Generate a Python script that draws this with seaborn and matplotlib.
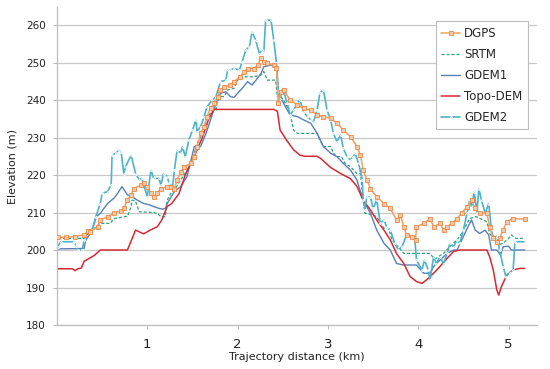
import matplotlib
matplotlib.use("Agg")
import matplotlib.pyplot as plt
import seaborn as sns

# ── Data ─────────────────────────────────────────────────────────────────────
DGPS_KM = [0.01, 0.10, 0.20, 0.30, 0.34, 0.37, 0.45, 0.48, 0.56, 0.63, 0.71, 0.74,
           0.78, 0.82, 0.85, 0.93, 0.96, 1.00, 1.04, 1.07, 1.11, 1.15, 1.22, 1.26,
           1.30, 1.33, 1.37, 1.41, 1.48, 1.52, 1.55, 1.59, 1.63, 1.66, 1.70, 1.74,
           1.78, 1.81, 1.85, 1.92, 1.96, 2.03, 2.07, 2.11, 2.18, 2.22, 2.26, 2.29,
           2.33, 2.40, 2.43, 2.45, 2.48, 2.51, 2.58, 2.66, 2.73, 2.81, 2.88, 2.95,
           3.03, 3.10, 3.17, 3.25, 3.32, 3.36, 3.39, 3.43, 3.47, 3.54, 3.62, 3.69,
           3.76, 3.80, 3.84, 3.87, 3.93, 3.97, 3.98, 4.06, 4.13, 4.17, 4.24, 4.28,
           4.32, 4.37, 4.43, 4.48, 4.54, 4.59, 4.63, 4.68, 4.76, 4.79, 4.83, 4.87,
           4.90, 4.94, 4.98, 5.05, 5.18]
DGPS_ELEV = [203.4, 203.4, 203.6, 204.0, 205.0, 204.9, 206.2, 208.0, 208.9, 209.8, 210.5, 211.1,
             213.3, 214.7, 216.4, 217.3, 217.8, 216.9, 215.1, 214.2, 215.1, 216.4, 216.9, 216.9,
             216.4, 218.7, 220.9, 222.2, 223.1, 224.9, 227.6, 231.1, 232.9, 235.6, 237.8, 239.1,
             240.9, 242.7, 243.6, 244.0, 244.9, 246.2, 247.6, 248.4, 248.4, 249.3, 251.1, 250.2,
             249.8, 249.3, 248.6, 239.1, 242.2, 242.7, 240.0, 238.7, 237.8, 237.3, 236.0, 235.6,
             235.1, 233.8, 232.0, 230.2, 227.6, 225.3, 221.3, 218.7, 216.4, 214.2, 212.4, 211.1,
             208.0, 209.3, 206.2, 204.0, 203.6, 202.8, 206.2, 207.1, 208.4, 206.2, 207.1, 205.3,
             206.2, 207.1, 208.4, 209.8, 211.6, 213.3, 211.1, 209.8, 209.8, 206.2, 203.1, 202.2,
             203.1, 205.3, 207.6, 208.4, 208.2]

SRTM_KM = [0.01, 0.30, 0.32, 0.37, 0.43, 0.48, 0.59, 0.63, 0.78, 0.82, 0.83, 0.87,
           0.91, 1.07, 1.11, 1.15, 1.20, 1.22, 1.26, 1.30, 1.37, 1.44, 1.50, 1.55,
           1.61, 1.66, 1.72, 1.76, 1.77, 1.81, 1.85, 1.89, 1.96, 2.00, 2.03, 2.18,
           2.26, 2.29, 2.33, 2.42, 2.44, 2.47, 2.53, 2.58, 2.62, 2.66, 2.88, 2.91,
           2.95, 3.03, 3.06, 3.10, 3.15, 3.19, 3.25, 3.32, 3.36, 3.39, 3.41, 3.47,
           3.54, 3.58, 3.62, 3.67, 3.71, 3.76, 3.84, 4.13, 4.17, 4.20, 4.24, 4.28,
           4.35, 4.43, 4.48, 4.54, 4.57, 4.64, 4.72, 4.76, 4.79, 4.85, 4.90, 4.94,
           5.00, 5.03, 5.08, 5.18]
SRTM_ELEV = [203.1, 203.1, 204.0, 204.4, 206.2, 207.1, 207.1, 208.4, 209.0, 211.6, 213.3, 213.0,
             210.2, 210.0, 209.8, 208.9, 208.9, 213.3, 215.1, 216.0, 218.7, 221.3, 224.0, 228.4,
             231.1, 235.1, 237.3, 237.3, 239.1, 240.9, 240.9, 242.7, 243.1, 245.3, 246.2, 246.2,
             246.7, 247.6, 245.3, 245.3, 240.9, 241.3, 239.1, 236.4, 232.0, 231.1, 231.1, 229.3,
             227.6, 227.6, 225.8, 224.9, 224.9, 223.1, 222.2, 220.4, 220.4, 213.3, 209.8, 209.5,
             208.9, 207.1, 205.8, 205.8, 202.7, 201.3, 199.1, 199.1, 197.8, 197.8, 198.5, 199.1,
             200.9, 202.7, 204.4, 207.1, 208.4, 208.9, 208.0, 207.5, 204.4, 202.7, 201.5, 201.8,
             203.1, 204.0, 203.1, 203.1]

GDEM1_KM = [0.01, 0.30, 0.32, 0.37, 0.44, 0.48, 0.56, 0.63, 0.66, 0.72, 0.78, 0.83,
            0.89, 0.96, 1.03, 1.07, 1.13, 1.17, 1.20, 1.22, 1.30, 1.37, 1.44, 1.52,
            1.59, 1.65, 1.70, 1.76, 1.81, 1.87, 1.92, 1.96, 2.00, 2.05, 2.11, 2.16,
            2.22, 2.26, 2.29, 2.37, 2.40, 2.43, 2.45, 2.47, 2.53, 2.58, 2.66, 2.73,
            2.81, 2.88, 2.95, 3.03, 3.10, 3.17, 3.25, 3.32, 3.39, 3.47, 3.54, 3.62,
            3.69, 3.76, 3.84, 3.98, 4.06, 4.13, 4.17, 4.24, 4.32, 4.39, 4.43, 4.50,
            4.55, 4.59, 4.63, 4.68, 4.74, 4.78, 4.81, 4.87, 4.91, 4.94, 5.00, 5.03,
            5.18]
GDEM1_ELEV = [200.3, 200.4, 202.7, 204.4, 208.9, 209.8, 212.4, 213.8, 214.7, 216.9, 214.7, 214.2,
              213.3, 212.4, 212.0, 211.6, 211.1, 210.9, 211.1, 212.4, 215.6, 216.9, 219.6, 227.6,
              227.6, 231.1, 234.7, 239.1, 241.8, 242.2, 240.9, 240.7, 241.8, 243.1, 244.9, 244.0,
              245.8, 247.1, 248.9, 249.3, 249.5, 248.9, 241.8, 240.9, 238.2, 236.0, 235.6, 234.7,
              233.8, 231.1, 227.6, 225.8, 224.9, 223.1, 221.3, 218.7, 213.3, 209.8, 205.3, 201.8,
              200.0, 196.4, 196.0, 196.0, 193.8, 193.8, 195.6, 197.3, 199.1, 200.0, 200.0, 203.6,
              206.2, 208.0, 205.3, 204.4, 205.3, 204.0, 200.0, 200.0, 198.7, 200.9, 201.0, 200.0,
              200.0]

TOPO_KM = [0.01, 0.17, 0.20, 0.23, 0.27, 0.30, 0.41, 0.48, 0.78, 0.87, 0.96, 1.03,
           1.11, 1.16, 1.22, 1.27, 1.35, 1.42, 1.52, 1.61, 1.68, 1.74, 2.40, 2.44,
           2.47, 2.55, 2.62, 2.69, 2.74, 2.88, 2.92, 3.03, 3.14, 3.25, 3.32, 3.39,
           3.47, 3.54, 3.62, 3.69, 3.76, 3.84, 3.91, 3.98, 4.04, 4.09, 4.17, 4.24,
           4.32, 4.39, 4.46, 4.76, 4.79, 4.83, 4.87, 4.89, 4.92, 4.98, 5.05, 5.13,
           5.18]
TOPO_ELEV = [195.0, 195.0, 194.5, 195.0, 195.2, 197.0, 198.5, 200.0, 200.0, 205.3, 204.3, 205.3,
             206.2, 208.0, 211.6, 212.4, 215.0, 220.0, 225.0, 230.0, 235.0, 237.5, 237.5, 237.0,
             232.0, 229.0, 226.7, 225.3, 225.0, 225.0, 224.4, 222.0, 220.4, 219.0, 217.0, 213.3,
             210.7, 208.0, 205.3, 202.7, 199.0, 196.4, 192.9, 191.6, 191.1, 192.0, 193.8, 195.6,
             197.8, 199.6, 200.0, 200.0, 198.2, 194.7, 189.3, 188.0, 190.2, 193.3, 194.7, 195.1,
             195.1]

GDEM2_KM = [0.01, 0.04, 0.19, 0.21, 0.23, 0.28, 0.30, 0.34, 0.39, 0.43, 0.48, 0.50,
            0.56, 0.60, 0.61, 0.65, 0.69, 0.71, 0.74, 0.76, 0.82, 0.87, 0.91, 0.94,
            1.00, 1.04, 1.07, 1.13, 1.15, 1.18, 1.22, 1.24, 1.28, 1.30, 1.33, 1.37,
            1.39, 1.42, 1.46, 1.50, 1.54, 1.55, 1.59, 1.63, 1.66, 1.72, 1.76, 1.81,
            1.87, 1.89, 1.92, 1.96, 2.02, 2.05, 2.09, 2.13, 2.16, 2.20, 2.24, 2.27,
            2.29, 2.31, 2.37, 2.40, 2.43, 2.45, 2.47, 2.50, 2.55, 2.58, 2.62, 2.66,
            2.69, 2.73, 2.77, 2.81, 2.84, 2.88, 2.91, 2.95, 2.99, 3.03, 3.06, 3.10,
            3.14, 3.17, 3.21, 3.25, 3.28, 3.30, 3.34, 3.38, 3.39, 3.41, 3.43, 3.47,
            3.50, 3.54, 3.58, 3.62, 3.65, 3.69, 3.74, 3.78, 3.82, 3.87, 3.91, 3.96,
            3.98, 4.04, 4.07, 4.11, 4.13, 4.17, 4.20, 4.24, 4.28, 4.32, 4.35, 4.39,
            4.43, 4.46, 4.50, 4.54, 4.57, 4.59, 4.62, 4.65, 4.67, 4.70, 4.74, 4.78,
            4.81, 4.83, 4.87, 4.90, 4.94, 4.97, 5.01, 5.05, 5.07, 5.18]
GDEM2_ELEV = [200.9, 202.2, 202.2, 201.0, 200.0, 200.0, 202.7, 205.3, 205.3, 208.9, 212.4, 215.1,
              215.6, 217.3, 225.3, 225.8, 226.7, 226.2, 220.4, 222.2, 225.3, 220.4, 218.7, 219.1,
              214.2, 221.3, 219.1, 219.1, 217.3, 220.4, 219.6, 217.8, 216.9, 221.3, 226.7, 225.8,
              227.6, 224.9, 229.3, 232.0, 234.7, 231.6, 232.9, 235.6, 238.2, 240.0, 240.9, 244.9,
              245.3, 248.0, 248.0, 248.4, 248.0, 250.2, 253.3, 254.2, 258.2, 256.0, 252.4, 253.3,
              252.9, 261.3, 261.3, 256.0, 249.8, 242.5, 240.4, 243.1, 239.1, 236.0, 237.3, 239.1,
              240.0, 236.9, 235.6, 234.7, 234.2, 237.3, 241.8, 242.7, 237.3, 234.7, 231.1, 228.9,
              230.7, 227.1, 224.9, 224.0, 224.9, 225.8, 223.1, 218.7, 213.3, 210.7, 214.2, 214.2,
              211.1, 213.3, 207.1, 208.0, 206.2, 205.3, 201.8, 200.0, 200.9, 204.0, 204.0, 203.6,
              197.3, 194.7, 197.3, 194.7, 192.0, 198.2, 196.4, 198.2, 196.4, 199.1, 201.8, 200.9,
              202.7, 201.8, 205.3, 209.8, 213.3, 211.6, 215.6, 209.8, 216.4, 213.3, 209.8, 212.4,
              205.3, 203.6, 203.6, 200.0, 195.6, 192.9, 193.8, 194.7, 202.2, 202.2]

Y_TICKS = [180, 190, 200, 210, 220, 230, 240, 250, 260]
X_TICKS = [1, 2, 3, 4, 5]

# ── Styling ──────────────────────────────────────────────────────────────────
sns.set_style("white")
plt.rcParams["font.family"] = ["DejaVu Sans"]

fig = plt.figure(figsize=(5.5, 3.69), dpi=100)
ax = fig.add_axes([0.1036, 0.1192, 0.8727, 0.8618])

sns.lineplot(x=DGPS_KM, y=DGPS_ELEV, ax=ax, sort=False, color="#F0A060", lw=1.1,
             marker="s", markersize=3.2, markerfacecolor="#F9C9A3",
             markeredgecolor="#E8894A", markeredgewidth=0.6, label="DGPS", zorder=3)
sns.lineplot(x=SRTM_KM, y=SRTM_ELEV, ax=ax, sort=False, color="#2FA27E", lw=0.9,
             linestyle=(0, (2.5, 1.5)), label="SRTM", zorder=2)
sns.lineplot(x=GDEM1_KM, y=GDEM1_ELEV, ax=ax, sort=False, color="#5A7FB5", lw=1.0,
             label="GDEM1", zorder=2)
sns.lineplot(x=TOPO_KM, y=TOPO_ELEV, ax=ax, sort=False, color="#D42A35", lw=1.1,
             label="Topo-DEM", zorder=2)
sns.lineplot(x=GDEM2_KM, y=GDEM2_ELEV, ax=ax, sort=False, color="#4FB3C8", lw=1.2,
             marker=".", markersize=2.5, label="GDEM2", zorder=2)

ax.set_xlim(0, 5.314)
ax.set_ylim(180, 264.8)
ax.set_yticks(Y_TICKS)
ax.set_xticks(X_TICKS)
ax.yaxis.grid(True, color="#C8C8C8", lw=0.9)
ax.xaxis.grid(False)

for side in ("top", "right"):
    ax.spines[side].set_visible(False)
for side in ("left", "bottom"):
    ax.spines[side].set_color("#BDBDBD")
    ax.spines[side].set_linewidth(0.9)

ax.tick_params(axis="y", length=3, width=0.8, color="#BDBDBD", labelsize=7.5,
               pad=5, labelcolor="#222222", left=True)
ax.tick_params(axis="x", length=3, width=0.8, color="#BDBDBD", labelsize=9.5,
               pad=6, labelcolor="#222222", bottom=True)

ax.set_xlabel("Trajectory distance (km)", fontsize=8, labelpad=1, color="#222222")
ax.set_ylabel("Elevation (m)", fontsize=8, labelpad=6, color="#222222")

leg = ax.legend(loc="upper right", bbox_to_anchor=(0.981, 0.955), fontsize=8.5,
                frameon=True, fancybox=False, framealpha=1, edgecolor="#BDBDBD",
                handlelength=1.6, labelspacing=0.68, borderpad=0.45, handletextpad=0.35,
                borderaxespad=0.0)
leg.get_frame().set_linewidth(0.8)

fig.savefig("out.png", dpi=100)
